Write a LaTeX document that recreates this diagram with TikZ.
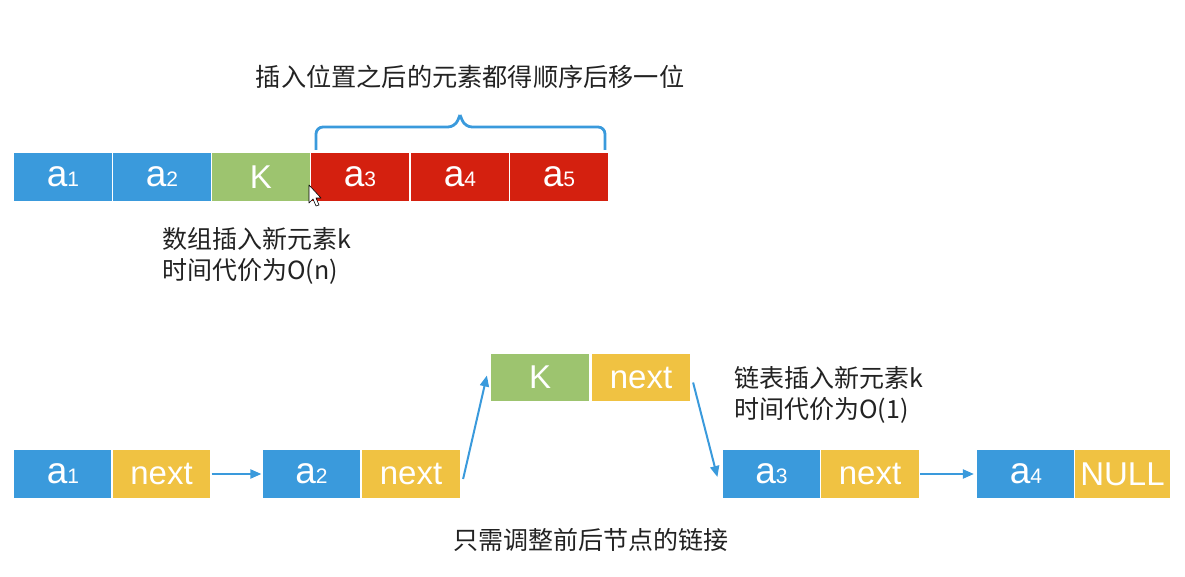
\documentclass[tikz,border=0pt]{standalone}
\usepackage{fontspec}
\newfontfamily\cjk{Noto Sans CJK SC}
\newfontfamily\lab{Liberation Sans}
\usetikzlibrary{arrows.meta}
\definecolor{cblue}{HTML}{3A9ADC}
\definecolor{cgreen}{HTML}{9DC46F}
\definecolor{cred}{HTML}{D4200F}
\definecolor{cyel}{HTML}{F0C242}
\definecolor{ctext}{HTML}{222222}
\newcommand{\sub}[2]{{\fontsize{37}{37}\selectfont #1}{\fontsize{21}{21}\selectfont #2}}
\tikzset{
  cell/.style={draw=white, line width=1.2pt, minimum width=99pt, minimum height=50pt, inner sep=0pt, text=white, font=\lab\fontsize{33}{33}\selectfont},
  bluec/.style={cell, fill=cblue},
  greenc/.style={cell, fill=cgreen},
  redc/.style={cell, fill=cred},
  yelc/.style={cell, fill=cyel},
  lbl/.style={text=ctext, font=\cjk\fontsize{25}{25}\selectfont, inner sep=0pt},
  link/.style={draw=cblue, line width=2pt, -{Triangle[length=11pt,width=9pt]}}
}
\begin{document}
\begin{tikzpicture}[x=1pt,y=-1pt]
\useasboundingbox (0,0) rectangle (1185,577);
% title
\node[lbl, font=\cjk\fontsize{25.2}{25.2}\selectfont] (title) at (470,77) {插入位置之后的元素都得顺序后移一位};
% brace
\draw[cblue, line width=2.8pt, rounded corners=7pt] (316,150) -- (316,127) -- (455,127) -- (460,115);
\draw[cblue, line width=2.8pt, rounded corners=7pt] (605,150) -- (605,127) -- (465,127) -- (460,115);
% array
\node[bluec]  (x1) at (63,177)  {\sub{a}{1}};
\node[bluec]  (x2) at (162,177) {\sub{a}{2}};
\node[greenc] (xk) at (261,177) {K};
\node[redc]   (x3) at (360,177) {\sub{a}{3}};
\node[redc]   (x4) at (460,177) {\sub{a}{4}};
\node[redc]   (x5) at (559,177) {\sub{a}{5}};
% cursor
\draw[fill=white, draw=black, line width=0.6pt, line join=round]
  (309,185) -- (309,203) -- (313,199) -- (316,206) -- (319,205) -- (316,198) -- (321,198) -- cycle;
% array caption
\node[lbl, anchor=west] (c1) at (162,239) {数组插入新元素k};
\node[lbl, anchor=west] (c2) at (162,271) {时间代价为O(n)};
% linked list
\node[bluec] (l1) at (63,474) {\sub{a}{1}};
\node[yelc]  (n1) at (161.5,474) {next};
\node[bluec] (l2) at (311.5,474) {\sub{a}{2}};
\node[yelc]  (n2) at (411,474) {next};
\node[greenc, minimum height=49pt] (lk) at (540,377.5) {K};
\node[yelc, minimum height=49pt]   (nk) at (641,377.5) {next};
\node[bluec] (l3) at (771.5,474) {\sub{a}{3}};
\node[yelc]  (n3) at (870,474) {next};
\node[bluec] (l4) at (1026,474) {\sub{a}{4}};
\node[yelc, minimum width=96pt]  (n4) at (1122.5,474) {NULL};
% links
\draw[link] (n1.east) -- (l2.west);
\draw[link] ([xshift=2pt,yshift=-5pt]n2.east) -- ([xshift=-3pt,yshift=2pt]lk.west);
\draw[link] ([xshift=2pt,yshift=-5pt]nk.east) -- ([xshift=-4pt,yshift=-3pt]l3.west);
\draw[link] (n3.east) -- ([xshift=-2pt]l4.west);
% captions
\node[lbl, anchor=west] (d1) at (734,378) {链表插入新元素k};
\node[lbl, anchor=west] (d2) at (734,410) {时间代价为O(1)};
\node[lbl] (d3) at (591,540) {只需调整前后节点的链接};
\end{tikzpicture}
\end{document}
